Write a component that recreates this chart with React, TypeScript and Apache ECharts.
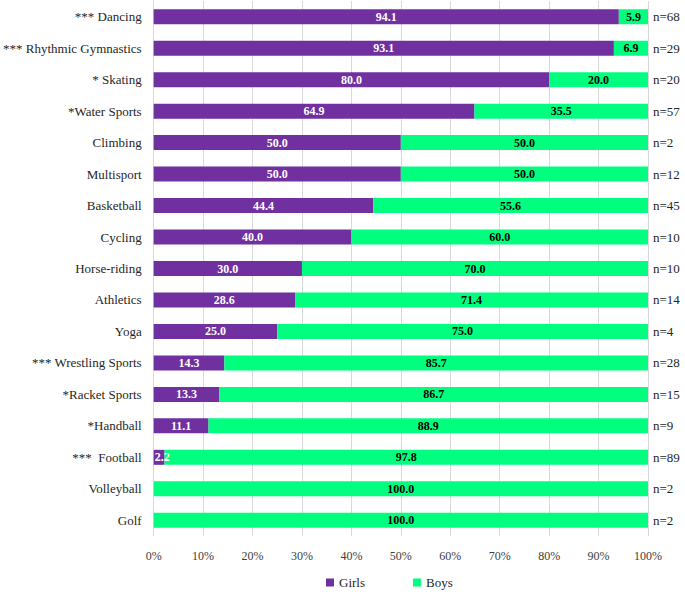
import React, { useEffect, useRef } from "react";
import * as echarts from "echarts";

const categories = [
  "*** Dancing",
  "*** Rhythmic Gymnastics",
  "* Skating",
  "*Water Sports",
  "Climbing",
  "Multisport",
  "Basketball",
  "Cycling",
  "Horse-riding",
  "Athletics",
  "Yoga",
  "*** Wrestling Sports",
  "*Racket Sports",
  "*Handball",
  "***  Football",
  "Volleyball",
  "Golf",
];
const girls = [94.1, 93.1, 80.0, 64.9, 50.0, 50.0, 44.4, 40.0, 30.0, 28.6, 25.0, 14.3, 13.3, 11.1, 2.2, 0, 0];
const boys = [5.9, 6.9, 20.0, 35.5, 50.0, 50.0, 55.6, 60.0, 70.0, 71.4, 75.0, 85.7, 86.7, 88.9, 97.8, 100.0, 100.0];
const nLabels = ["n=68", "n=29", "n=20", "n=57", "n=2", "n=12", "n=45", "n=10", "n=10", "n=14", "n=4", "n=28", "n=15", "n=9", "n=89", "n=2", "n=2"];

const FONT = "'Liberation Serif', 'DejaVu Serif', serif";
const PURPLE = "#7030A0";
const GREEN = "#00FF7F";

export default function App() {
  const ref = useRef<HTMLDivElement>(null);
  useEffect(() => {
    if (!ref.current) return;
    const chart = echarts.init(ref.current, undefined, { renderer: "svg" });
    chart.setOption({
      animation: false,
      textStyle: { fontFamily: FONT },
      grid: { left: 152, right: 37, top: 1, bottom: 58, containLabel: false },
      legend: {
        left: 326,
        top: 576,
        padding: 0,
        icon: "rect",
        itemWidth: 8,
        itemHeight: 8,
        itemGap: 48,
        textStyle: { fontFamily: FONT, fontSize: 13, color: "#262626" },
        data: ["Girls", "Boys"],
      },
      xAxis: {
        type: "value",
        min: 0,
        max: 100,
        interval: 10,
        axisLabel: { formatter: "{value}%", fontFamily: FONT, fontSize: 12, color: "#404040", margin: 14 },
        axisLine: { show: false },
        axisTick: { show: false },
        splitLine: { show: true, lineStyle: { color: "#d9d9d9", width: 1 } },
      },
      yAxis: [
        {
          type: "category",
          inverse: true,
          data: categories,
          axisLine: { show: true, lineStyle: { color: "#d9d9d9" } },
          axisTick: { show: false },
          axisLabel: { fontFamily: FONT, fontSize: 13, color: "#262626", margin: 12 },
        },
        {
          type: "category",
          inverse: true,
          position: "right",
          data: nLabels,
          axisLine: { show: false },
          axisTick: { show: false },
          axisLabel: { fontFamily: FONT, fontSize: 13, color: "#262626", margin: 5 },
        },
      ],
      series: [
        {
          name: "Girls",
          type: "bar",
          stack: "total",
          barWidth: 15,
          itemStyle: { color: PURPLE },
          data: girls.map((v) => ({
            value: v,
            label: v < 5 ? { position: "insideLeft", distance: 1 } : undefined,
          })),
          label: {
            show: true,
            position: "inside",
            color: "#ffffff",
            fontFamily: FONT,
            fontSize: 12,
            fontWeight: "bold",
            formatter: (p: any) => (p.value > 0 ? Number(p.value).toFixed(1) : ""),
          },
        },
        {
          name: "Boys",
          type: "bar",
          stack: "total",
          barWidth: 15,
          itemStyle: { color: GREEN },
          data: boys,
          label: {
            show: true,
            position: "inside",
            color: "#000000",
            fontFamily: FONT,
            fontSize: 12,
            fontWeight: "bold",
            formatter: (p: any) => (p.value > 0 ? Number(p.value).toFixed(1) : ""),
          },
        },
      ],
    });
    return () => chart.dispose();
  }, []);
  return (
    <div
      ref={ref}
      style={{ position: "fixed", left: 0, top: 0, width: 685, height: 594, background: "#ffffff" }}
    />
  );
}
